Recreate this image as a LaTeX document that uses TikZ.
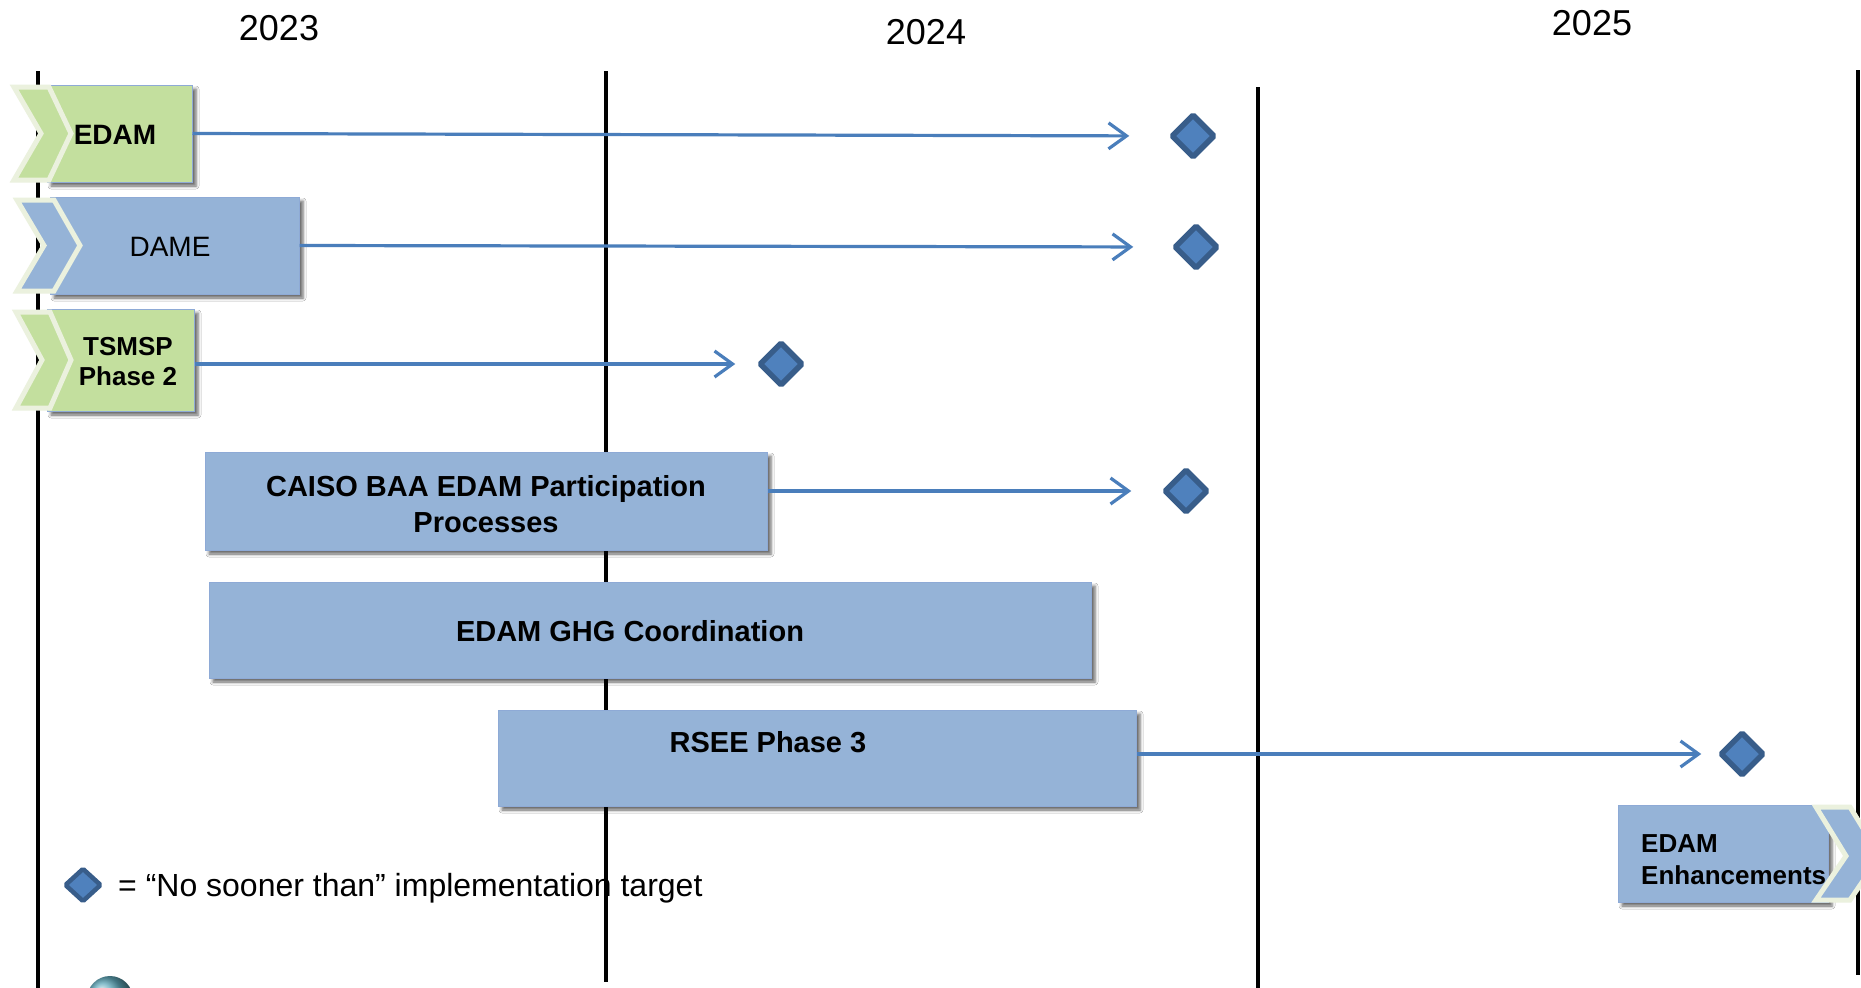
\documentclass[tikz,border=0pt]{standalone}
\usepackage{fontspec}
\setmainfont{Liberation Sans}
\usetikzlibrary{arrows.meta,shapes.geometric,shadows,shadows.blur}
\definecolor{boxblue}{HTML}{95B3D7}
\definecolor{boxgreen}{HTML}{C3DF9E}
\definecolor{boxedge}{HTML}{8EAAD6}
\definecolor{chevedge}{HTML}{EBF1DE}
\definecolor{linkblue}{HTML}{4A7EBB}
\definecolor{msfill}{HTML}{4F81BD}
\definecolor{msedge}{HTML}{385D8A}
\definecolor{logoteal}{HTML}{5FA8BA}
\tikzset{
  vline/.style={line width=3.5pt, black},
  bluebox/.style={rectangle, fill=boxblue, draw=boxedge, line width=1pt, inner sep=0pt,
    blur shadow={shadow xshift=4pt, shadow yshift=-4pt, shadow blur radius=3pt, shadow opacity=60}},
  greenbox/.style={bluebox, fill=boxgreen},
  chev/.style={draw=chevedge, line width=5pt, line join=miter, miter limit=10},
  conn/.style={draw=linkblue, line width=3.2pt, -{Straight Barb[length=18pt,width=26pt,line width=3.2pt]}},
  milestone/.style={diamond, fill=msfill, draw=msedge, line width=5.5pt, rounded corners=1.5pt,
    minimum width=44pt, minimum height=44pt, inner sep=0pt},
  yearlbl/.style={font=\fontsize{36}{43}\selectfont, inner sep=0pt},
  lbl/.style={font=\bfseries\fontsize{29}{36}\selectfont, align=center, inner sep=0pt},
  smalllbl/.style={font=\bfseries\fontsize{26}{30}\selectfont, align=center, inner sep=0pt},
}
\begin{document}
\begin{tikzpicture}[x=1pt, y=-1pt]
\useasboundingbox (0,0) rectangle (1861,988);
\clip (0,0) rectangle (1861,988);
\fill[white] (0,0) rectangle (1861,988);

% year labels
\node[yearlbl] (y2023) at (279,28) {2023};
\node[yearlbl] (y2024) at (926,32) {2024};
\node[yearlbl] (y2025) at (1592,23) {2025};

% year dividers
\draw[vline] (38,71) -- (38,988);
\draw[vline] (606,71) -- (606,982);
\draw[vline] (1258,87) -- (1258,988);
\draw[vline] (1858,70) -- (1858,975);

% EDAM
\node[greenbox, minimum width=145pt, minimum height=97pt] (edam) at (119.5,133.5) {};
\filldraw[chev, fill=boxgreen] (14,87) -- (49,87) -- (71,133.5) -- (49,180) -- (14,180) -- (41,133.5) -- cycle;
\node[font=\bfseries\fontsize{28}{34}\selectfont, inner sep=0pt] (edamtxt) at (115,135) {EDAM};

% DAME
\node[bluebox, minimum width=249pt, minimum height=97pt] (dame) at (174.5,245.5) {};
\filldraw[chev, fill=boxblue] (17,200) -- (54,200) -- (80,245.5) -- (54,291) -- (17,291) -- (44,245.5) -- cycle;
\node[font=\fontsize{28}{34}\selectfont, inner sep=0pt] (dametxt) at (170,247) {DAME};

% TSMSP
\node[greenbox, minimum width=147pt, minimum height=102pt] (tsmsp) at (120.5,360) {};
\filldraw[chev, fill=boxgreen] (16,312) -- (50,312) -- (71,360) -- (50,408) -- (16,408) -- (42,360) -- cycle;
\node[smalllbl] (tsmsptxt) at (128,362) {TSMSP\\Phase 2};

% CAISO BAA
\node[bluebox, minimum width=562pt, minimum height=98pt] (caiso) at (486,501) {};
\node[lbl] (caisotxt) at (486,504) {CAISO BAA EDAM Participation\\Processes};

% EDAM GHG
\node[bluebox, minimum width=882pt, minimum height=96pt] (ghg) at (650,630) {};
\node[lbl] (ghgtxt) at (630,631) {EDAM GHG Coordination};

% RSEE
\node[bluebox, minimum width=638pt, minimum height=96pt] (rsee) at (817,758) {};
\node[lbl] (rseetxt) at (768,742) {RSEE Phase 3};

% EDAM Enhancements
\node[bluebox, minimum width=210pt, minimum height=97pt] (enh) at (1723,853.5) {};
\filldraw[chev, fill=boxblue] (1816,807) -- (1850,807) -- (1880,856) -- (1850,900) -- (1816,900) -- (1846,856) -- cycle;
\node[smalllbl, align=left, font=\bfseries\fontsize{26}{32}\selectfont, anchor=west] (enhtxt) at (1641,860) {EDAM\\Enhancements};

% milestones
\node[milestone] (d1) at (1193,136) {};
\node[milestone] (d2) at (1196,247) {};
\node[milestone] (d3) at (781,364) {};
\node[milestone] (d4) at (1186,491) {};
\node[milestone] (d5) at (1742,754) {};

% connectors
\draw[conn, shorten >=39pt] (edam.east) -- (d1.west);
\draw[conn, shorten >=38pt] (dame.east) -- (d2.west);
\draw[conn, shorten >=21pt] (tsmsp.east |- d3.west) -- (d3.west);
\draw[conn, shorten >=30pt] (caiso.east |- d4.west) -- (d4.west);
\draw[conn, shorten >=16pt] ([yshift=4pt]rsee.east) -- (d5.west);

% legend
\node[milestone, minimum width=37pt, minimum height=34pt, line width=4.5pt] (legdia) at (83,885) {};
\node[font=\fontsize{32}{38}\selectfont, anchor=base west, inner sep=0pt] (legtxt) at (118,896) {= “No sooner than” implementation target};

% logo fragment
\shade[ball color=logoteal] (110,999) circle (23);
\end{tikzpicture}
\end{document}
